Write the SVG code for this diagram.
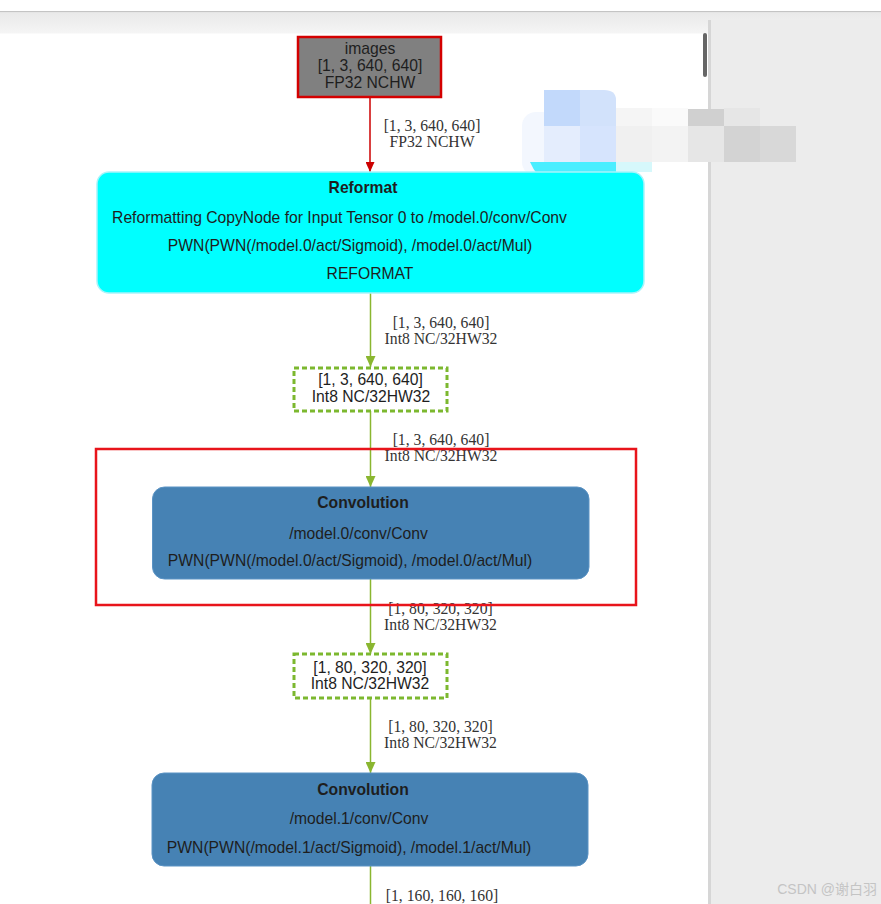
<svg xmlns="http://www.w3.org/2000/svg" width="881" height="904" viewBox="0 0 881 904">
<defs>
<style>
.sans{font-family:"Liberation Sans",Arial,sans-serif;font-size:15.7px;fill:#1e1e1e;text-anchor:middle}
.bold{font-weight:bold}
.elab{font-family:"Liberation Serif","Times New Roman",serif;font-size:15.7px;fill:#333;text-anchor:middle}
.dash{fill:#fff;stroke:#7cb82f;stroke-width:3;stroke-dasharray:5 3}
.conv{fill:#4682b4;stroke:#5b93c4;stroke-width:1}
.gline{stroke:#8ab630;stroke-width:1.5;fill:none}
</style>
<marker id="ar" markerUnits="userSpaceOnUse" markerWidth="10" markerHeight="9" refX="10" refY="4.5" orient="auto"><path d="M0,0 L10,4.5 L0,9 z" fill="#cc0000"/></marker>
<marker id="ag" markerUnits="userSpaceOnUse" markerWidth="11" markerHeight="10" refX="11" refY="5" orient="auto"><path d="M0,0 L11,5 L0,10 z" fill="#8ab630"/></marker>
<linearGradient id="band" x1="0" y1="0" x2="0" y2="1"><stop offset="0" stop-color="#e9e9e9"/><stop offset="1" stop-color="#f5f5f5"/></linearGradient>
</defs>
<rect x="0" y="0" width="881" height="904" fill="#fff"/>
<rect x="0" y="11" width="881" height="1.5" fill="#c4c4c4"/>
<rect x="0" y="12.5" width="881" height="21" fill="url(#band)"/>
<rect x="709" y="20" width="172" height="884" fill="#ececec"/>
<rect x="708" y="20" width="3" height="884" fill="#d6d6d6"/>
<rect x="703" y="33" width="4" height="44" rx="2" fill="#666"/>
<g id="mosaic">
<rect x="522" y="112" width="34" height="64" rx="14" fill="#f3f7fe"/>
<rect x="544" y="90" width="36" height="36" fill="#c2d9fb"/>
<path d="M580,90 H604 Q616,90 616,100 V126 H580 z" fill="#d2e2fb"/>
<rect x="616" y="108" width="36" height="18" fill="#f5f5f5"/>
<rect x="652" y="108" width="36" height="18" fill="#fafafa"/>
<rect x="688" y="109" width="36" height="17" fill="#d0d0d0"/>
<rect x="724" y="108" width="36" height="18" fill="#e6e6e6"/>
<rect x="760" y="108" width="36" height="18" fill="#ececec"/>
<rect x="544" y="126" width="36" height="36" fill="#e4edfd"/>
<rect x="580" y="126" width="36" height="36" fill="#d6e4fd"/>
<rect x="616" y="126" width="36" height="36" fill="#f0f0f0"/>
<rect x="652" y="126" width="36" height="36" fill="#f3f3f3"/>
<rect x="688" y="126" width="36" height="36" fill="#e6e6e6"/>
<rect x="724" y="126" width="36" height="36" fill="#d3d3d3"/>
<rect x="760" y="126" width="36" height="36" fill="#d8d8d8"/>
<path d="M530,162 H616 V178 Q610,186 596,184 Q584,192 570,188 Q556,194 548,184 Q536,176 530,162 z" fill="#4aeeff"/>
<rect x="616" y="162" width="36" height="10" fill="#d6f8fb"/>
</g>
<g id="connectors">
<line x1="370" y1="97" x2="370" y2="172" stroke="#cc0000" stroke-width="1.5" marker-end="url(#ar)"/>
<text class="elab" x="432" y="131">[1, 3, 640, 640]</text>
<text class="elab" x="432" y="147">FP32 NCHW</text>
<line class="gline" x1="370.5" y1="293" x2="370.5" y2="367" marker-end="url(#ag)"/>
<text class="elab" x="441" y="328">[1, 3, 640, 640]</text>
<text class="elab" x="441" y="344">Int8 NC/32HW32</text>
<line class="gline" x1="370.5" y1="411" x2="370.5" y2="487" marker-end="url(#ag)"/>
<text class="elab" x="441" y="445">[1, 3, 640, 640]</text>
<text class="elab" x="441" y="461">Int8 NC/32HW32</text>
<line class="gline" x1="370.5" y1="579" x2="370.5" y2="654" marker-end="url(#ag)"/>
<text class="elab" x="440.5" y="614">[1, 80, 320, 320]</text>
<text class="elab" x="440.5" y="630">Int8 NC/32HW32</text>
<line class="gline" x1="370.5" y1="698" x2="370.5" y2="773" marker-end="url(#ag)"/>
<text class="elab" x="440.5" y="732">[1, 80, 320, 320]</text>
<text class="elab" x="440.5" y="748">Int8 NC/32HW32</text>
<line class="gline" x1="370.5" y1="866" x2="370.5" y2="904"/>
<text class="elab" x="442" y="901">[1, 160, 160, 160]</text>
</g>
<g id="node-images">
<rect x="298" y="37" width="143" height="60" fill="#808080" stroke="#d40000" stroke-width="2.5"/>
<text class="sans" x="370" y="54">images</text>
<text class="sans" x="370" y="71">[1, 3, 640, 640]</text>
<text class="sans" x="370" y="88">FP32 NCHW</text>
</g>
<g id="node-reformat">
<rect x="97" y="172" width="547" height="121" rx="12" fill="#00ffff" stroke="#a8f4fa" stroke-width="1.5"/>
<text class="sans bold" x="363" y="193">Reformat</text>
<text class="sans" x="339.5" y="223">Reformatting CopyNode for Input Tensor 0 to /model.0/conv/Conv</text>
<text class="sans" x="350" y="251">PWN(PWN(/model.0/act/Sigmoid), /model.0/act/Mul)</text>
<text class="sans" x="370" y="279">REFORMAT</text>
</g>
<g id="node-tensor1">
<rect class="dash" x="294" y="368" width="153" height="43"/>
<text class="sans" x="370.5" y="385">[1, 3, 640, 640]</text>
<text class="sans" x="371" y="402">Int8 NC/32HW32</text>
</g>
<g id="node-conv0">
<rect class="conv" x="152.5" y="487" width="436.5" height="92" rx="12"/>
<text class="sans bold" x="363" y="508">Convolution</text>
<text class="sans" x="358.5" y="539">/model.0/conv/Conv</text>
<text class="sans" x="350" y="566">PWN(PWN(/model.0/act/Sigmoid), /model.0/act/Mul)</text>
</g>
<g id="node-tensor2">
<rect class="dash" x="294" y="654" width="153" height="44"/>
<text class="sans" x="370" y="673">[1, 80, 320, 320]</text>
<text class="sans" x="370" y="689">Int8 NC/32HW32</text>
</g>
<g id="node-conv1">
<rect class="conv" x="152" y="773" width="436" height="93" rx="12"/>
<text class="sans bold" x="363" y="795">Convolution</text>
<text class="sans" x="359" y="824">/model.1/conv/Conv</text>
<text class="sans" x="349" y="853">PWN(PWN(/model.1/act/Sigmoid), /model.1/act/Mul)</text>
</g>
<g id="highlight">
<rect x="96" y="449" width="540" height="156" fill="none" stroke="#e8141b" stroke-width="2.5"/>
</g>
<text x="877" y="894" text-anchor="end" font-family="Liberation Sans, Noto Sans CJK SC, sans-serif" font-size="14" fill="#c4c4c4">CSDN @谢白羽</text>
</svg>
